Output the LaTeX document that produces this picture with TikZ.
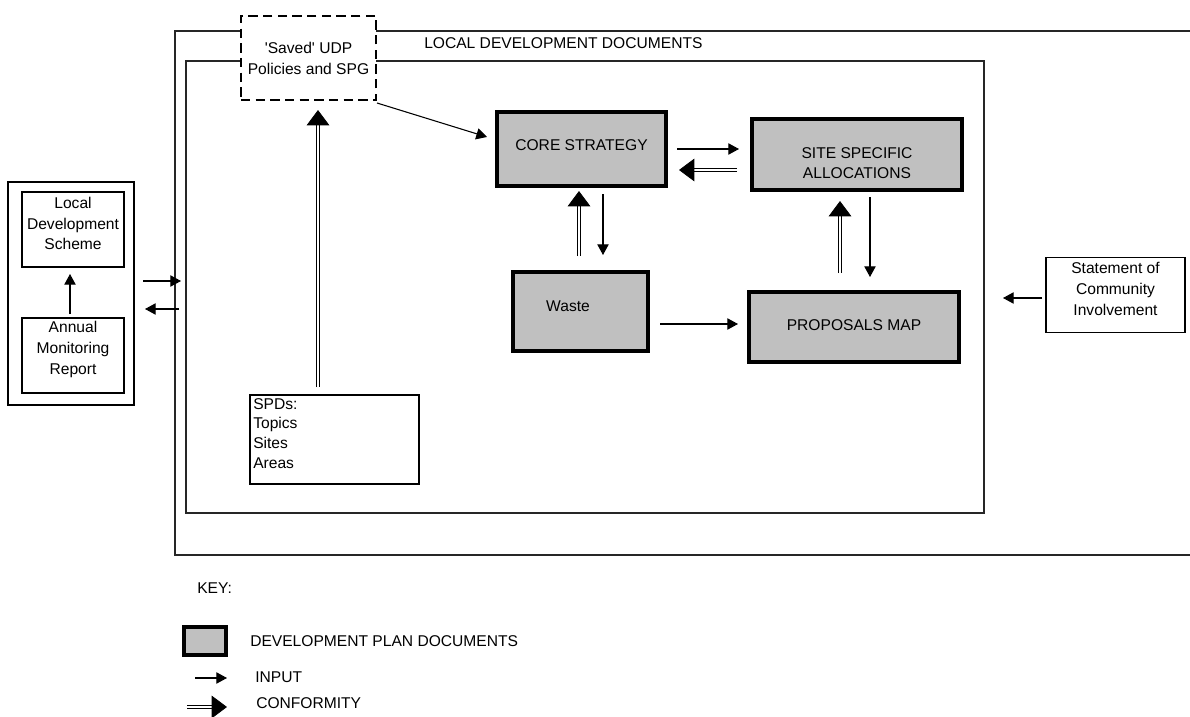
\documentclass[tikz,border=0pt]{standalone}
\usepackage{fontspec}
\setmainfont{Liberation Sans}
\usetikzlibrary{arrows.meta,calc}
\definecolor{dpdgray}{HTML}{C0C0C0}
\def\u{0.75pt}
\tikzset{
  every node/.style={font=\fontsize{11.7}{15.5}\selectfont},
  dpd/.style={draw, fill=dpdgray, line width=2.4pt, inner sep=0pt, outer sep=0pt},
  plainbox/.style={draw, line width=0.8pt, inner sep=0pt, outer sep=0pt},
  frame/.style={draw=black!85, line width=0.8pt},
  savedbox/.style={draw, fill=white, line width=2.2pt, dash pattern=on 7pt off 4pt, inner sep=0pt, outer sep=0pt},
  txt/.style={inner sep=0pt, align=center},
  inarrow/.style={line width=0.8pt, -{Triangle[length=8pt,width=8.5pt]}},
  confarrow/.style={double, double distance=1.6pt, line width=0.6pt, -{Triangle[length=11.5pt,width=17pt]}},
}
\begin{document}
\begin{tikzpicture}[x=0.75pt, y=-0.75pt]
\useasboundingbox (0,0) rectangle (1190,717);

% frames
\draw[frame] (1190,31) -- (175,31) -- (175,555) -- (1190,555);
\node[plainbox, draw=black!85, minimum width=798*\u, minimum height=452*\u] (inner) at (585,287) {};
\node[anchor=west, inner sep=0pt] (ldd) at (424,43) {LOCAL DEVELOPMENT DOCUMENTS};

% saved box
\node[savedbox, minimum width=135*\u, minimum height=84*\u] (saved) at (308.5,58) {};
\node[txt] (savedtxt) at (308.5,58.5) {\textquotesingle Saved\textquotesingle\ UDP\\Policies and SPG};

% DPD boxes
\node[dpd, minimum width=169*\u, minimum height=74*\u] (core) at (581.5,149) {};
\node[txt] (coretxt) at (581.5,145) {CORE STRATEGY};
\node[dpd, minimum width=210*\u, minimum height=71*\u] (site) at (857,154.5) {};
\node[txt] (sitetxt) at (857,163) {SITE SPECIFIC\\ALLOCATIONS};
\node[dpd, minimum width=135*\u, minimum height=79*\u] (waste) at (580.5,311.5) {};
\node[txt] (wastetxt) at (568,306) {Waste};
\node[dpd, minimum width=210*\u, minimum height=70*\u] (prop) at (854,327) {};
\node[txt] (proptxt) at (854,325) {PROPOSALS MAP};

% SPDs
\node[plainbox, minimum width=169*\u, minimum height=89*\u] (spd) at (334.5,439.5) {};
\node[anchor=north west, inner sep=0pt, align=left, font=\fontsize{11.7}{14.8}\selectfont] (spdtxt) at (253,398) {SPDs:\\Topics\\Sites\\Areas};

% left group
\node[plainbox, minimum width=126*\u, minimum height=223*\u] (left) at (71,293.5) {};
\node[plainbox, minimum width=102*\u, minimum height=75*\u] (lds) at (73,229.5) {};
\node[txt] (ldstxt) at (73,223.5) {Local\\Development\\Scheme};
\node[plainbox, minimum width=102*\u, minimum height=75*\u] (amr) at (73,355.5) {};
\node[txt] (amrtxt) at (73,349.5) {Annual\\Monitoring\\Report};

% statement
\node[plainbox, minimum width=139*\u, minimum height=75*\u] (sci) at (1115.5,295) {};
\node[txt] (scitxt) at (1115.5,289) {Statement of\\Community\\Involvement};

% coordinates for free ends
\coordinate (inL) at (181,281);
\coordinate (outL) at (179,309);
\coordinate (inR) at (1003,298);

% connectors
\draw[inarrow] ($(saved.south east)+(1,3)$) -- ($(core.west)+(-10,-12)$);
\draw[inarrow] ($(core.east)+(11,0)$) -- ($(core.east)+(73,0)$);
\draw[confarrow] ($(site.west)+(-15,15.5)$) -- ($(core.east)+(13,21)$);
\draw[confarrow] ($(waste.north)+(-1.5,-16)$) -- ($(core.south)+(-2.5,5)$);
\draw[inarrow] ($(core.south)+(21.5,8)$) -- ($(waste.north)+(22.5,-17)$);
\draw[inarrow] ($(waste.east)+(12,12.5)$) -- ($(prop.west)+(-11,-3)$);
\draw[confarrow] ($(prop.north)+(-14,-19)$) -- ($(site.south)+(-17,11)$);
\draw[inarrow] ($(site.south)+(13,7)$) -- ($(prop.north)+(16,-15)$);
\draw[confarrow] ($(spd.north)+(-16.5,-8)$) -- ($(saved.south)+(9.5,10)$);
\draw[inarrow] ($(amr.north)+(-3,-4)$) -- ($(lds.south)+(-3,7)$);
\draw[inarrow] ($(left.east)+(9,-12.5)$) -- (inL);
\draw[inarrow] (outL) -- ($(left.east)+(11,15.5)$);
\draw[inarrow] ($(sci.west)+(-4,3)$) -- (inR);

% key
\node[anchor=west, inner sep=0pt] (key) at (197,588) {KEY:};
\node[dpd, minimum width=42*\u, minimum height=28*\u] (keybox) at (205,641) {};
\node[anchor=west, inner sep=0pt] (keydpd) at (250,641) {DEVELOPMENT PLAN DOCUMENTS};
\coordinate (kia) at (195,678);
\coordinate (kib) at (227,678);
\node[anchor=west, inner sep=0pt] (keyin) at (255,677) {INPUT};
\coordinate (kca) at (187,707);
\coordinate (kcb) at (227,707);
\node[anchor=west, inner sep=0pt] (keyconf) at (256,703) {CONFORMITY};
\draw[inarrow] (kia) -- (kib);
\draw[confarrow] (kca) -- (kcb);
\end{tikzpicture}
\end{document}
